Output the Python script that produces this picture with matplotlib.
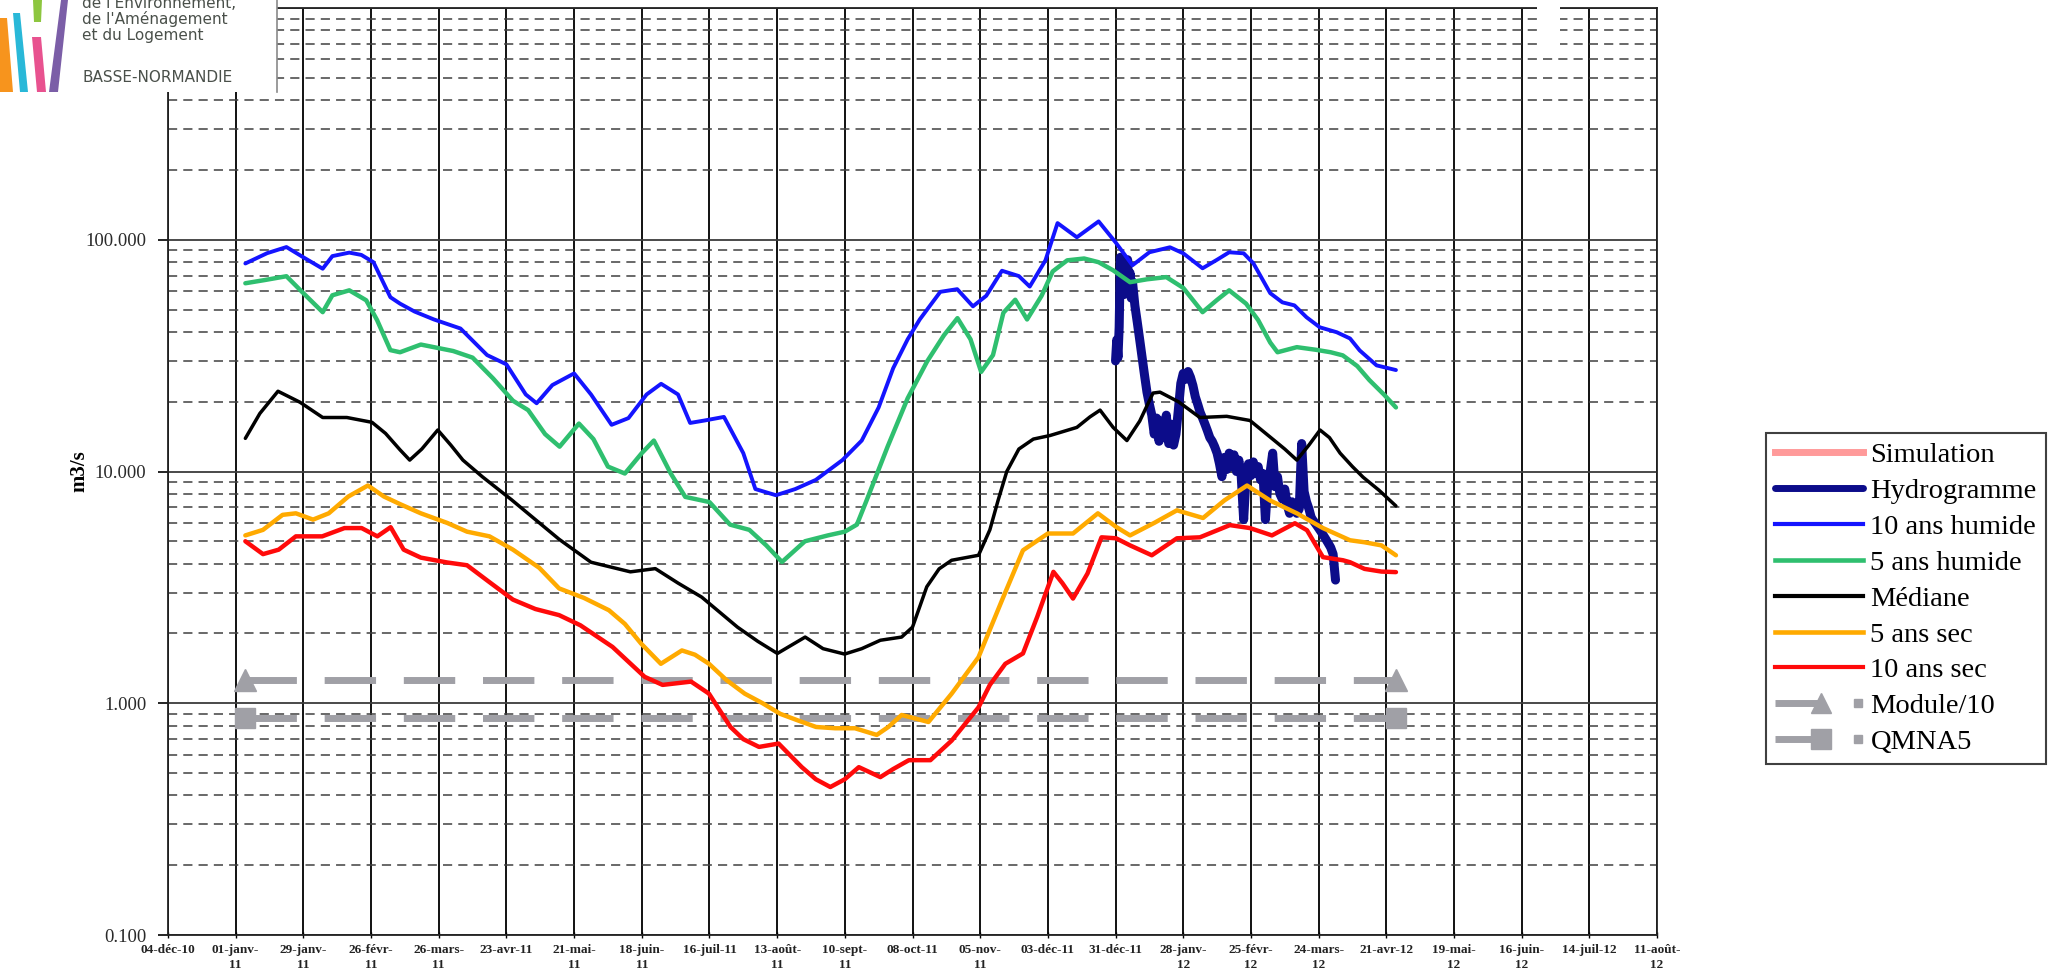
import matplotlib
matplotlib.use("Agg")
import numpy as np
import matplotlib.pyplot as plt
from matplotlib.lines import Line2D
from matplotlib.patches import Rectangle, Polygon
from matplotlib.legend_handler import HandlerBase
from matplotlib.ticker import FixedLocator, LogLocator, FuncFormatter, NullFormatter
from matplotlib.font_manager import FontProperties

# ---------------- data (x = days since 04-dec-2010) ----------------
tick_days = list(range(0, 617, 28))
tick_labels = ["04-déc-10", "01-janv-\n11", "29-janv-\n11", "26-févr-\n11", "26-mars-\n11",
               "23-avr-11", "21-mai-\n11", "18-juin-\n11", "16-juil-11", "13-août-\n11",
               "10-sept-\n11", "08-oct-11", "05-nov-\n11", "03-déc-11", "31-déc-11",
               "28-janv-\n12", "25-févr-\n12", "24-mars-\n12", "21-avr-12", "19-mai-\n12",
               "16-juin-\n12", "14-juil-12", "11-août-\n12"]

humide10_d = [32, 41, 49, 56, 64, 68, 75, 80, 85, 92, 96, 102, 110, 121, 132, 140, 148, 152.5,
              159, 168, 175, 183.5, 190.5, 198, 204, 211, 216, 222, 230, 238, 243, 251.5, 259.5,
              268, 279, 287, 294, 300, 306, 311, 319.5, 326.5, 333, 338.5, 345, 352, 356.5, 363,
              368, 376, 385, 392, 399, 406, 414.5, 420, 428, 434, 439, 445, 449, 456, 461, 466,
              471, 476.5, 483.5, 489, 493, 500, 508]
humide10_v = [79, 87.5, 93, 84, 75, 85, 88, 86, 80, 56.5, 53, 49, 45.3, 41.4, 31.8, 29, 21.5, 19.7,
              23.6, 26.5, 21.5, 15.9, 17, 21.5, 23.9, 21.5, 16.2, 16.6, 17.2, 12.0, 8.4, 7.9, 8.4,
              9.2, 11.2, 13.6, 18.9, 27.9, 37.2, 45.3, 59.6, 61.2, 51.6, 57.3, 73.5, 69.7, 62.8, 81.5,
              118, 102.5, 120, 97.5, 77.6, 88.3, 92.8, 87.4, 75.3, 82, 88.3, 87.4, 79.2, 58.8, 53.7, 52.1,
              46.3, 41.9, 39.9, 37.5, 33.3, 28.7, 27.4]

humide5_d = [32, 40, 49, 56, 64, 68, 75, 82, 86.5, 92, 96, 104.6, 118, 126, 134.5, 142.7, 149, 156,
             162, 170, 176, 182, 189, 196, 201, 208, 214, 224, 232.5, 240.5, 247.5, 254, 263.5, 273,
             280, 285, 289, 297.7, 306, 314, 321, 326.6, 332, 336.4, 341.3, 345.6, 350.5, 355.4,
             361.4, 366, 372, 379, 385, 391, 398, 405, 413, 420, 428, 434, 439, 446, 451, 456, 459,
             467, 475, 481, 486, 492, 497, 503, 508]
humide5_v = [64.9, 67, 69.6, 58.8, 48.7, 57.6, 60.5, 54.8, 45, 33.4, 32.7, 35.3, 33.1, 31, 25.2, 20.2,
             18.4, 14.5, 12.8, 16.1, 13.8, 10.5, 9.8, 12, 13.6, 9.8, 7.77, 7.38, 5.9, 5.6, 4.8, 4.07,
             5.0, 5.3, 5.5, 5.9, 7.5, 12.8, 20.7, 29.8, 38.7, 45.9, 37.2, 26.9, 31.8, 48.4, 55.1, 45.3,
             57.3, 73, 81.5, 83, 80, 73.8, 65.6, 67.5, 69, 62, 48.7, 55, 60.5, 53, 45, 36, 32.7, 34.4,
             33.5, 32.7, 31.7, 28.5, 24.8, 21.5, 18.9]

mediane_d = [32, 38, 45.5, 54.6, 64, 74, 84.4, 90, 96, 100, 105, 111.6, 117, 122, 130, 142, 152,
             161.8, 175, 191.3, 201.6, 211, 220.8, 235.6, 244, 252.1, 263.6, 271, 279.9, 287, 294.7,
             303.5, 308, 313.9, 319, 324.2, 335.3, 340, 343.4, 347, 352, 358, 364.9, 376, 381.4,
             385.6, 391, 396.7, 402, 407.5, 410.4, 418, 426.9, 438, 447.6, 455.9, 462, 467, 472,
             476.6, 480.5, 484.9, 490, 494.4, 501, 508]
mediane_v = [13.9, 17.8, 22.2, 19.9, 17.1, 17.1, 16.3, 14.6, 12.4, 11.2, 12.5, 15.1, 13, 11.2, 9.5,
             7.57, 6.2, 5.1, 4.06, 3.69, 3.81, 3.3, 2.87, 2.13, 1.85, 1.64, 1.93, 1.72, 1.63, 1.72,
             1.87, 1.93, 2.13, 3.18, 3.8, 4.14, 4.35, 5.6, 7.5, 10, 12.5, 13.8, 14.3, 15.5, 17.2, 18.4,
             15.5, 13.6, 16.5, 21.8, 22, 20, 17.1, 17.3, 16.6, 14.1, 12.5, 11.2, 13, 15.1, 14, 12,
             10.5, 9.45, 8.3, 7.1]

sec5_d = [32, 39.3, 47.4, 52.9, 60, 66.5, 74.6, 82.7, 89.3, 96.4, 104.6, 115.5, 123.7, 133, 142.7,
          153.6, 161.8, 172, 182.4, 189, 195.7, 203.9, 212.6, 218, 223.8, 231, 238.6, 246, 253.3,
          261, 268.1, 276, 284.2, 293.2, 298, 303.5, 309, 314.6, 324.2, 335.3, 345, 353.7, 364,
          374.4, 384.7, 392.2, 398, 408, 417.4, 428.2, 437, 446.4, 455.9, 467, 477.8, 489, 495,
          502, 508]
sec5_v = [5.3, 5.6, 6.5, 6.6, 6.2, 6.6, 7.8, 8.7, 7.8, 7.2, 6.6, 6.0, 5.5, 5.25, 4.6, 3.84, 3.13,
          2.85, 2.52, 2.2, 1.81, 1.48, 1.69, 1.62, 1.48, 1.26, 1.10, 1.0, 0.90, 0.84, 0.79, 0.78,
          0.78, 0.73, 0.79, 0.89, 0.86, 0.83, 1.10, 1.58, 2.78, 4.57, 5.4, 5.4, 6.6, 5.77, 5.3,
          6.0, 6.8, 6.3, 7.5, 8.7, 7.5, 6.6, 5.7, 5.05, 4.95, 4.8, 4.35]

sec10_d = [32, 39.3, 45.8, 52.9, 63.8, 73, 80.1, 86.6, 92.1, 97.5, 104.6, 115.5, 123.7, 133, 142.7,
           152, 161.8, 170.6, 183.9, 197.2, 204.6, 216.4, 223.8, 232.7, 238, 244.5, 252.6, 262.2,
           268, 274, 280, 285.8, 294.7, 300, 306.5, 315.4, 324.2, 335.3, 340, 346.4, 353.7, 359.6,
           366.3, 370, 374.4, 380.4, 386.2, 392.2, 398, 407, 417.4, 426.9, 439.3, 447.6, 456.7,
           466.2, 471.2, 477.8, 486.1, 489, 495, 502, 508]
sec10_v = [5.0, 4.4, 4.6, 5.25, 5.25, 5.7, 5.7, 5.25, 5.75, 4.6, 4.25, 4.05, 3.94, 3.33, 2.8, 2.55,
           2.4, 2.17, 1.75, 1.30, 1.20, 1.24, 1.10, 0.79, 0.70, 0.648, 0.67, 0.53, 0.47, 0.435, 0.47,
           0.53, 0.48, 0.52, 0.568, 0.568, 0.69, 0.96, 1.2, 1.48, 1.64, 2.36, 3.69, 3.3, 2.83, 3.63,
           5.2, 5.15, 4.8, 4.35, 5.15, 5.2, 5.87, 5.7, 5.3, 5.98, 5.58, 4.27, 4.14, 4.06, 3.8, 3.7,
           3.68]

hydro_d = [392, 392.5, 393, 393.5, 394, 394.5, 395, 395.5, 396, 396.5, 397, 397.5, 398, 398.5, 399,
           400, 401, 402, 403, 404, 405, 406, 407, 408, 409, 410, 411, 412, 413, 414, 415, 416, 417,
           418, 419, 420, 421, 422, 423, 424, 425, 426, 427, 428, 429, 430, 431, 432, 433, 434, 435,
           436, 437, 438, 439, 440, 441, 442, 443, 444, 445, 446, 447, 448, 449, 450, 451, 452, 453,
           454, 455, 456, 457, 458, 459, 460, 461, 462, 463, 464, 465, 466, 467, 468, 469, 470, 471,
           472, 473, 474, 475, 476, 477, 478, 479, 480, 481, 482, 483]
hydro_v = [30, 37, 31, 42, 84, 62, 80, 58, 76, 64, 82, 60, 72, 56, 66,
           52, 44, 37, 31, 26, 22, 19.5, 17.5, 14.5, 17, 13.5, 16.5, 14, 17.5, 13.2, 16, 13, 14.5,
           18.5, 24, 26.5, 25, 27, 25.5, 23.5, 21, 19.5, 18, 17, 16, 15, 14, 13.5, 12.8, 12, 10.8,
           9.5, 11.5, 10.2, 12, 10.5, 11.8, 10, 11.2, 9.5, 6.2, 9.5, 10.8, 9.6, 11, 9.8, 10.5, 9.2, 9.8,
           6.2, 9, 10, 12, 8.6, 9.5, 8, 7.6, 8.4, 7.2, 6.6, 7.4, 6.8, 6.6, 6.9, 13.2, 8.2, 7.4,
           6.9, 6.3, 6.1, 5.9, 5.7, 5.5, 5.3, 5.1, 4.9, 4.7, 4.4, 3.4]

module_d = [32, 508]
module_v = [1.26, 1.26]
qmna_d = [32, 508]
qmna_v = [0.86, 0.86]

legend_labels = ["Simulation", "Hydrogramme", "10 ans humide", "5 ans humide", "Médiane",
                 "5 ans sec", "10 ans sec", "Module/10", "QMNA5"]

# ---------------- colours ----------------
C_SIM = "#ff9a9a"
C_HYD = "#0c0c8a"
C_BLUE = "#1414ff"
C_GREEN = "#2fbf6f"
C_BLACK = "#000000"
C_ORANGE = "#ffaa00"
C_RED = "#ff0a0a"
C_GRAY = "#a0a0a6"

W, H = 2062, 977


def fx(px):
    return px / W


def fy(py):
    return 1 - py / H


fig = plt.figure(figsize=(W / 100, H / 100), dpi=100)
ax = fig.add_axes([fx(168), fy(935), (1657 - 168) / W, (935 - 8) / H])
ax.set_yscale("log")
ax.set_ylim(0.1, 1000)
ax.set_xlim(0, 616)

# grid
ax.set_axisbelow(True)
ax.yaxis.set_major_locator(FixedLocator([0.1, 1, 10, 100, 1000]))
ax.yaxis.set_minor_locator(LogLocator(base=10, subs=np.arange(2, 10), numticks=30))
ax.yaxis.set_minor_formatter(NullFormatter())
ax.yaxis.set_major_formatter(FuncFormatter(lambda v, p: "" if v > 500 else f"{v:.3f}"))
ax.grid(True, which="major", axis="y", color="#3c3c3c", lw=1.3, ls="-")
ax.grid(True, which="minor", axis="y", color="#404040", lw=1.1, ls=(0, (6, 4)))
ax.grid(True, which="major", axis="x", color="#111111", lw=1.4, ls="-")

ax.set_xticks(tick_days)
ax.set_xticklabels(tick_labels, fontsize=9.5, fontweight="bold", family="Liberation Serif",
                   linespacing=1.3, color="#222222")
ax.tick_params(axis="x", which="major", direction="inout", length=5, pad=4, width=1)
ax.tick_params(axis="y", which="major", direction="out", length=7, width=1.2, pad=8.5,
               labelsize=13.5, labelcolor="#2a2a2a")
ax.tick_params(axis="y", which="minor", length=0)
for lab in ax.get_yticklabels():
    lab.set_family("Liberation Serif")
for s in ax.spines.values():
    s.set_color("#222222")
    s.set_linewidth(1.3)

ax.set_ylabel("m3/s", fontsize=15, fontweight="bold", family="Liberation Serif")
ax.yaxis.set_label_coords(-0.053, 0.5)

# reference lines
ax.plot(module_d, module_v, color=C_GRAY, lw=5, ls=(0, (7.4, 4)), dash_capstyle="butt",
        marker="^", ms=16, zorder=2.5)
ax.plot(qmna_d, qmna_v, color=C_GRAY, lw=5, ls=(0, (7.4, 4)), dash_capstyle="butt",
        marker="s", ms=15, zorder=2.5)

# hydrogram
ax.plot(hydro_d, hydro_v, color=C_HYD, lw=6.5, solid_joinstyle="round", solid_capstyle="round",
        zorder=3)

# statistical curves
kw = dict(solid_joinstyle="round", solid_capstyle="round", zorder=4)
ax.plot(humide10_d, humide10_v, color=C_BLUE, lw=2.8, **kw)
ax.plot(humide5_d, humide5_v, color=C_GREEN, lw=3.2, **kw)
ax.plot(mediane_d, mediane_v, color=C_BLACK, lw=2.5, **kw)
ax.plot(sec5_d, sec5_v, color=C_ORANGE, lw=3.2, **kw)
ax.plot(sec10_d, sec10_v, color=C_RED, lw=3.2, **kw)


# ---------------- legend ----------------
class EndMarkerHandler(HandlerBase):
    def __init__(self, marker, msize):
        super().__init__()
        self.marker = marker
        self.msize = msize

    def create_artists(self, legend, orig_handle, xdescent, ydescent, width, height,
                       fontsize, trans):
        y = height / 2.0 - ydescent
        x0 = -xdescent
        c = orig_handle.get_color()
        a = Line2D([x0, x0 + 0.52 * width], [y, y], color=c, lw=5, solid_capstyle="butt")
        b = Line2D([x0 + 0.52 * width], [y], color=c, marker=self.marker, ms=self.msize, lw=0)
        s = Line2D([x0 + 0.94 * width], [y], color=c, marker="s", ms=6, lw=0)
        for art in (a, b, s):
            art.set_transform(trans)
        return [a, b, s]


h_sim = Line2D([], [], color=C_SIM, lw=5)
h_hyd = Line2D([], [], color=C_HYD, lw=5, solid_capstyle="round")
h_b = Line2D([], [], color=C_BLUE, lw=3)
h_g = Line2D([], [], color=C_GREEN, lw=3.3)
h_k = Line2D([], [], color=C_BLACK, lw=3)
h_o = Line2D([], [], color=C_ORANGE, lw=3.3)
h_r = Line2D([], [], color=C_RED, lw=3)
h_mod = Line2D([], [], color=C_GRAY)
h_qm = Line2D([], [], color=C_GRAY)

leg = fig.legend([h_sim, h_hyd, h_b, h_g, h_k, h_o, h_r, h_mod, h_qm], legend_labels,
                 loc="upper left", bbox_to_anchor=(fx(1766), fy(433)),
                 bbox_transform=fig.transFigure, frameon=True, fancybox=False,
                 edgecolor="#404040", framealpha=1,
                 prop=FontProperties(family="Liberation Serif", size=20.5),
                 handlelength=3.1, handletextpad=0.25, labelspacing=0.35, borderpad=0.32,
                 borderaxespad=0,
                 handler_map={h_mod: EndMarkerHandler("^", 15), h_qm: EndMarkerHandler("s", 14)})
leg.get_frame().set_linewidth(1.5)

# ---------------- logo block (top-left) ----------------
fig.add_artist(Rectangle((0, fy(92)), fx(277), 92 / H, transform=fig.transFigure,
                         facecolor="white", edgecolor="none", zorder=10))
fig.add_artist(Line2D([fx(277), fx(277)], [fy(0), fy(92)], transform=fig.transFigure,
                      color="#8a8a8a", lw=1.2, zorder=11))
stripes = [
    ([(0, 92), (13, 92), (7, 18), (0, 18)], "#f7941d"),
    ([(13, 13), (20, 13), (28, 92), (20, 92)], "#29b8d8"),
    ([(33, 0), (42, 0), (41, 22), (34, 22)], "#8dc63f"),
    ([(32, 37), (41, 37), (46, 92), (37, 92)], "#e8528f"),
    ([(61, 0), (68, 0), (58, 92), (49, 92)], "#7b5ea7"),
]
for pts, col in stripes:
    fig.add_artist(Polygon([(fx(x), fy(y)) for x, y in pts], closed=True,
                           transform=fig.transFigure, facecolor=col, edgecolor="none",
                           zorder=11))
logo_lines = [("de l'Environnement,", 8), ("de l'Aménagement", 24), ("et du Logement", 40),
              ("BASSE-NORMANDIE", 82)]
for txt, base in logo_lines:
    fig.text(fx(82), fy(base), txt, fontsize=11, family="DejaVu Sans", color="#4a504a",
             va="baseline", ha="left", zorder=12)

# small white patch in top-right
fig.add_artist(Rectangle((fx(1537), fy(50)), 23 / W, 50 / H, transform=fig.transFigure,
                         facecolor="white", edgecolor="none", zorder=10))

fig.savefig("out.png", dpi=100)
